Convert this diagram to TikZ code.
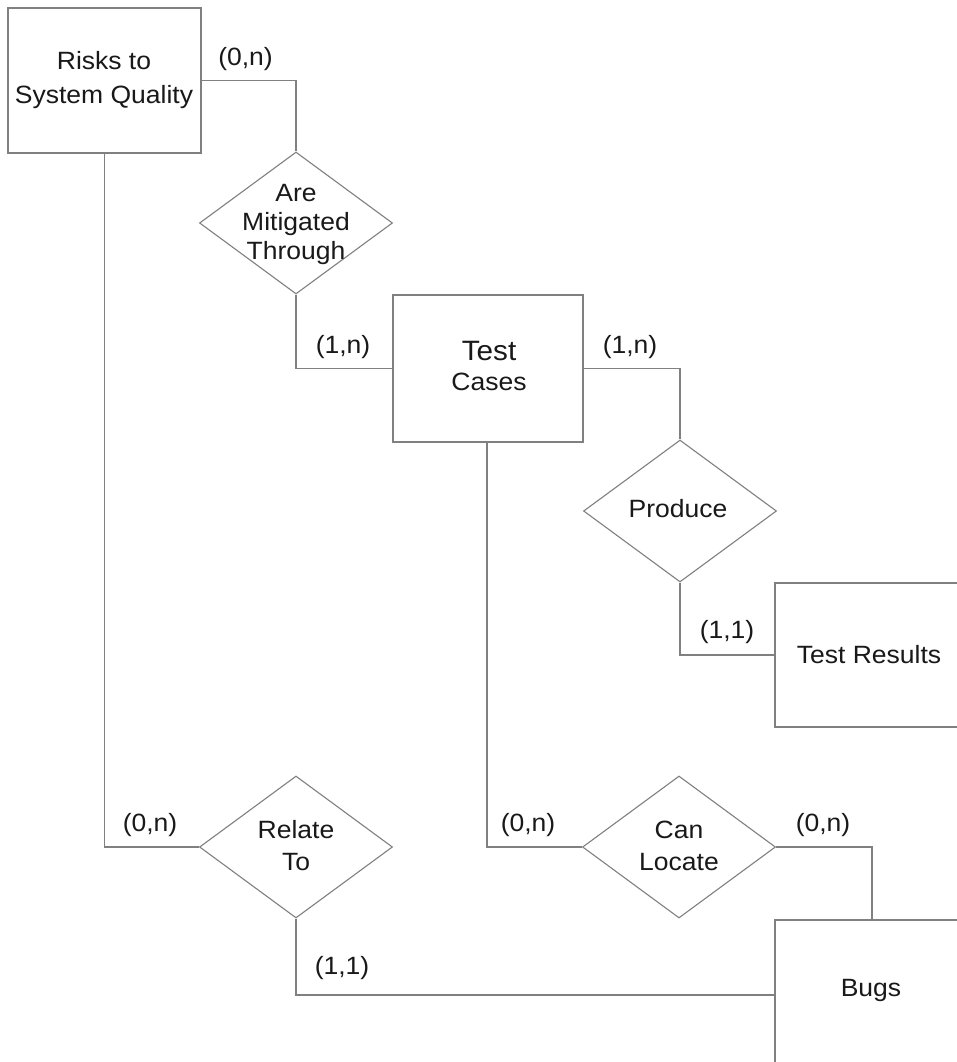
\documentclass[tikz,border=0pt]{standalone}
\usepackage{fontspec}
\setmainfont[FakeStretch=1.06]{Liberation Sans}
\usetikzlibrary{shapes.geometric}
\definecolor{linegray}{RGB}{128,128,128}
\definecolor{textdark}{RGB}{25,25,25}
\tikzset{
  entity/.style={draw=linegray, line width=1.4pt, rectangle, inner sep=0pt},
  relation/.style={draw=linegray, line width=1.1pt, diamond, inner sep=0pt, minimum width=193pt, minimum height=142pt},
  etext/.style={text=textdark, align=center, inner sep=0pt, font=\fontsize{25}{31}\selectfont},
  card/.style={text=textdark, inner sep=0pt, font=\fontsize{25}{30}\selectfont},
  conn/.style={draw=linegray, line width=1.4pt}
}
\begin{document}
\begin{tikzpicture}[x=1pt, y=-1pt]
\useasboundingbox (0,0) rectangle (957,1062);
\fill[white] (0,0) rectangle (957,1062);
\clip (0,0) rectangle (957,1062);

% entities
\node[entity, minimum width=193pt, minimum height=145pt] (risks) at (104.5,80.5) {};
\node[etext, font=\fontsize{25}{34}\selectfont] (riskst) at (104,80) {Risks to\\System Quality};

\node[entity, minimum width=190pt, minimum height=147pt] (tc) at (488,368.5) {};
\node[etext] (tct) at (489,366) {{\fontsize{28}{30}\selectfont Test}\\[-1pt]Cases};

\node[entity, minimum width=190pt, minimum height=144pt] (tr) at (870,655) {};
\node[etext] (trt) at (869,655) {Test Results};

\node[entity, minimum width=190pt, minimum height=150pt] (bugs) at (870,995) {};
\node[etext] (bugst) at (871,990) {Bugs};

% relationships
\node[relation] (am) at (296,223) {};
\node[etext, font=\fontsize{25}{29}\selectfont] (amt) at (296,224) {Are\\Mitigated\\Through};

\node[relation] (pr) at (680,511) {};
\node[etext] (prt) at (678,509) {Produce};

\node[relation] (rt) at (296,847) {};
\node[etext, font=\fontsize{25}{32}\selectfont] (rtt) at (296,846) {Relate\\To};

\node[relation] (cl) at (679,847) {};
\node[etext, font=\fontsize{25}{32}\selectfont] (clt) at (679,846) {Can\\Locate};

% connectors
\draw[conn] (risks.east) -| (am.north);
\draw[conn] (am.south) |- (tc.west);
\draw[conn] (tc.east) -| (pr.north);
\draw[conn] (pr.south) |- (tr.west);
\draw[conn] (risks.south) |- (rt.west);
\draw[conn] (rt.south) |- (bugs.west);
\draw[conn] ([xshift=-1pt]tc.south) |- (cl.west);
\draw[conn] (cl.east) -| ([xshift=2pt]bugs.north);

% cardinalities
\node[card] (c1) at (245.5,59) {(0,n)};
\node[card] (c2) at (343,347) {(1,n)};
\node[card] (c3) at (630,347) {(1,n)};
\node[card] (c4) at (727,632) {(1,1)};
\node[card] (c5) at (150,825) {(0,n)};
\node[card] (c6) at (342,968) {(1,1)};
\node[card] (c7) at (528,825) {(0,n)};
\node[card] (c8) at (823,825) {(0,n)};
\end{tikzpicture}
\end{document}
